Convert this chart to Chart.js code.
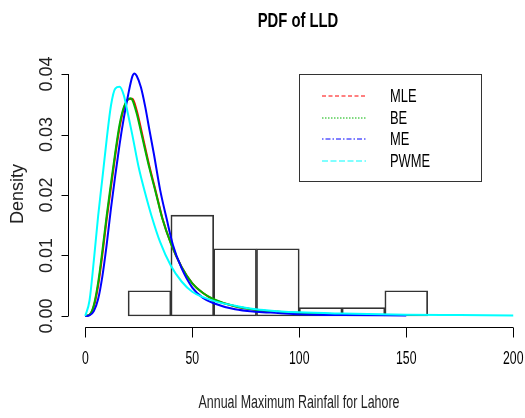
<!DOCTYPE html>
<html>
<head>
<meta charset="utf-8">
<script src="https://cdn.jsdelivr.net/npm/chart.js@4"></script>
<style>
  body { margin: 0; background: #fff; }
  #pdfchart { display: block; }
</style>
</head>
<body>
<canvas id="pdfchart" width="525" height="418"></canvas>
<script>
// histogram of annual maximum rainfall (bin width 20)
var binCenters = [30, 50, 70, 90, 110, 130, 150];
var binDensity = [0.00417, 0.01667, 0.01111, 0.01111, 0.00139, 0.00139, 0.00417];
var binEdges = [0, 20, 40, 60, 80, 100, 120, 140, 160, 180, 200];

// fitted LLD densities
var mleX = [0, 2, 4, 6, 8, 10, 12, 14, 16, 18, 20, 22, 24, 26, 28, 30, 33, 36, 40, 45, 50, 55, 60, 70, 80, 90, 100, 108];
var mleY = [0, 0.0002, 0.0016, 0.0050, 0.0102, 0.0160, 0.0213, 0.0265, 0.0311, 0.0343, 0.0358, 0.0359, 0.0340, 0.0310, 0.0278, 0.0247, 0.0205, 0.0162, 0.0120, 0.0081, 0.0054, 0.0038, 0.0027, 0.0016, 0.0010, 0.0007, 0.0005, 0.0004];

var beX = [0, 2, 4, 6, 8, 10, 12, 14, 16, 18, 20, 21, 22, 24, 26, 28, 30, 33, 36, 40, 45, 50, 55, 60, 70, 80, 90, 100, 110, 118];
var beY = [0, 0.0002, 0.0018, 0.0055, 0.0108, 0.0166, 0.0219, 0.0270, 0.0316, 0.0345, 0.0358, 0.0360, 0.0357, 0.0335, 0.0305, 0.0274, 0.0244, 0.0203, 0.0161, 0.0120, 0.0081, 0.0054, 0.0038, 0.0028, 0.0016, 0.0010, 0.0007, 0.0005, 0.0004, 0.0003];

var meX = [0, 2, 4, 6, 8, 10, 12, 14, 16, 18, 20, 22, 23, 24, 26, 28, 30, 32, 35, 38, 41, 45, 50, 55, 60, 70, 80, 90, 100, 120, 150];
var meY = [0, 0.0001, 0.0008, 0.0028, 0.0066, 0.0118, 0.0178, 0.0232, 0.0283, 0.0327, 0.0365, 0.0396, 0.0401, 0.0397, 0.0378, 0.0346, 0.0307, 0.0269, 0.0208, 0.0161, 0.0117, 0.0079, 0.0047, 0.0030, 0.0021, 0.0011, 0.0007, 0.0005, 0.0003, 0.00015, 0.0001];

var pwmeX = [0, 2, 4, 6, 8, 10, 12, 14, 16, 18, 20, 22, 25, 28, 31, 35, 40, 45, 50, 60, 70, 80, 90, 100, 120, 150, 175, 200];
var pwmeY = [0, 0.0026, 0.0092, 0.0165, 0.0228, 0.0292, 0.0348, 0.0376, 0.0379, 0.0365, 0.0333, 0.0299, 0.0245, 0.0203, 0.0165, 0.0122, 0.0083, 0.0057, 0.0040, 0.0025, 0.0017, 0.0011, 0.0008, 0.0006, 0.0004, 0.0002, 0.00015, 0.0001];

var xTicks = [0, 50, 100, 150, 200];
var yTicks = [0, 0.01, 0.02, 0.03, 0.04];
var yTickLabels = ['0.00', '0.01', '0.02', '0.03', '0.04'];
var seriesNames = ['MLE', 'BE', 'ME', 'PWME'];
var seriesColors = ['#ff0000', '#00b400', '#0000ff', '#00ffff'];
var seriesDash = [[4, 2.5], [1.5, 1.5], [1.5, 2, 5, 2], [6, 2.5]];

function pts(xs, ys) {
    return xs.map(function (x, i) { return { x: x, y: ys[i] }; });
}

// text in R output is narrow and tall
function rtext(ctx, s, x, y, size, bold, sx, rot, align, color) {
    ctx.save();
    ctx.translate(x, y);
    if (rot) ctx.rotate(-Math.PI / 2);
    ctx.scale(sx, 1);
    ctx.font = (bold ? 'bold ' : '') + size + 'px "Liberation Sans", Arial, sans-serif';
    ctx.fillStyle = color || '#000';
    ctx.textAlign = align || 'center';
    ctx.textBaseline = 'middle';
    ctx.fillText(s, 0, 0);
    ctx.restore();
}

var rAxes = {
    id: 'rAxes',
    afterDraw: function (chart) {
        var ctx = chart.ctx;
        var xs = chart.scales.x, ys = chart.scales.y;
        var area = chart.chartArea;
        ctx.save();
        ctx.strokeStyle = '#000';
        ctx.lineWidth = 1;

        // x axis
        var yb = Math.round(area.bottom) + 0.5;
        ctx.beginPath();
        ctx.moveTo(xs.getPixelForValue(xTicks[0]), yb);
        ctx.lineTo(xs.getPixelForValue(xTicks[xTicks.length - 1]), yb);
        xTicks.forEach(function (v) {
            var px = Math.round(xs.getPixelForValue(v)) + 0.5;
            ctx.moveTo(px, yb);
            ctx.lineTo(px, yb + 10);
        });
        ctx.stroke();
        xTicks.forEach(function (v) {
            rtext(ctx, String(v), xs.getPixelForValue(v), yb + 32, 18, false, 0.68);
        });

        // y axis
        var xl = Math.round(area.left) + 0.5;
        ctx.beginPath();
        ctx.moveTo(xl, ys.getPixelForValue(yTicks[0]));
        ctx.lineTo(xl, ys.getPixelForValue(yTicks[yTicks.length - 1]));
        yTicks.forEach(function (v) {
            var py = Math.round(ys.getPixelForValue(v)) + 0.5;
            ctx.moveTo(xl, py);
            ctx.lineTo(xl - 7, py);
        });
        ctx.stroke();
        yTicks.forEach(function (v, i) {
            rtext(ctx, yTickLabels[i], xl - 21, ys.getPixelForValue(v), 18, false, 1, true, 'center', '#222');
        });

        // titles
        rtext(ctx, 'PDF of LLD', 298, 21, 20, true, 0.74);
        rtext(ctx, 'Annual Maximum Rainfall for Lahore', 299, 403, 18, false, 0.69, false, 'center', '#222');
        rtext(ctx, 'Density', 18, 194, 18, false, 1, true, 'center', '#222');

        // legend box
        ctx.strokeStyle = '#333';
        ctx.strokeRect(299.5, 74.5, 182, 107);
        seriesNames.forEach(function (name, i) {
            var ry = 96 + i * 21.5;
            ctx.beginPath();
            ctx.strokeStyle = seriesColors[i];
            ctx.setLineDash(seriesDash[i]);
            ctx.moveTo(322, Math.round(ry));
            ctx.lineTo(366, Math.round(ry));
            ctx.stroke();
            ctx.setLineDash([]);
            rtext(ctx, name, 390, ry + 1, 19, false, 0.68, false, 'left');
        });
        ctx.restore();
    }
};

var curveSets = [pts(mleX, mleY), pts(beX, beY), pts(meX, meY), pts(pwmeX, pwmeY)];
var lineDatasets = curveSets.map(function (d, i) {
    return {
        type: 'line',
        label: seriesNames[i],
        data: d,
        borderColor: seriesColors[i],
        borderWidth: 2,
        pointRadius: 0,
        cubicInterpolationMode: 'monotone',
        fill: false,
        order: 4 - i
    };
});

var pdfctx = document.getElementById('pdfchart').getContext('2d');
var pdfchart = new Chart(pdfctx, {
    type: 'bar',
    data: {
        datasets: [{
            label: 'Histogram',
            data: pts(binCenters, binDensity),
            backgroundColor: 'rgba(255,255,255,0)',
            borderColor: '#333',
            borderWidth: 1,
            borderSkipped: false,
            barPercentage: 1,
            categoryPercentage: 1,
            grouped: false,
            order: 10
        }].concat(lineDatasets)
    },
    options: {
        responsive: false,
        devicePixelRatio: 1,
        animation: false,
        layout: { padding: { left: 68, right: 0, top: 63, bottom: 91 } },
        plugins: { legend: { display: false }, tooltip: { enabled: false }, title: { display: false } },
        scales: {
            x: {
                type: 'linear',
                min: -8.08,
                max: 205.5,
                offset: false,
                display: false,
                afterBuildTicks: function (scale) {
                    scale.ticks = binEdges.map(function (v) { return { value: v }; });
                }
            },
            y: {
                type: 'linear',
                min: -0.00182,
                max: 0.04182,
                display: false
            }
        }
    },
    plugins: [rAxes]
});
</script>
</body>
</html>
